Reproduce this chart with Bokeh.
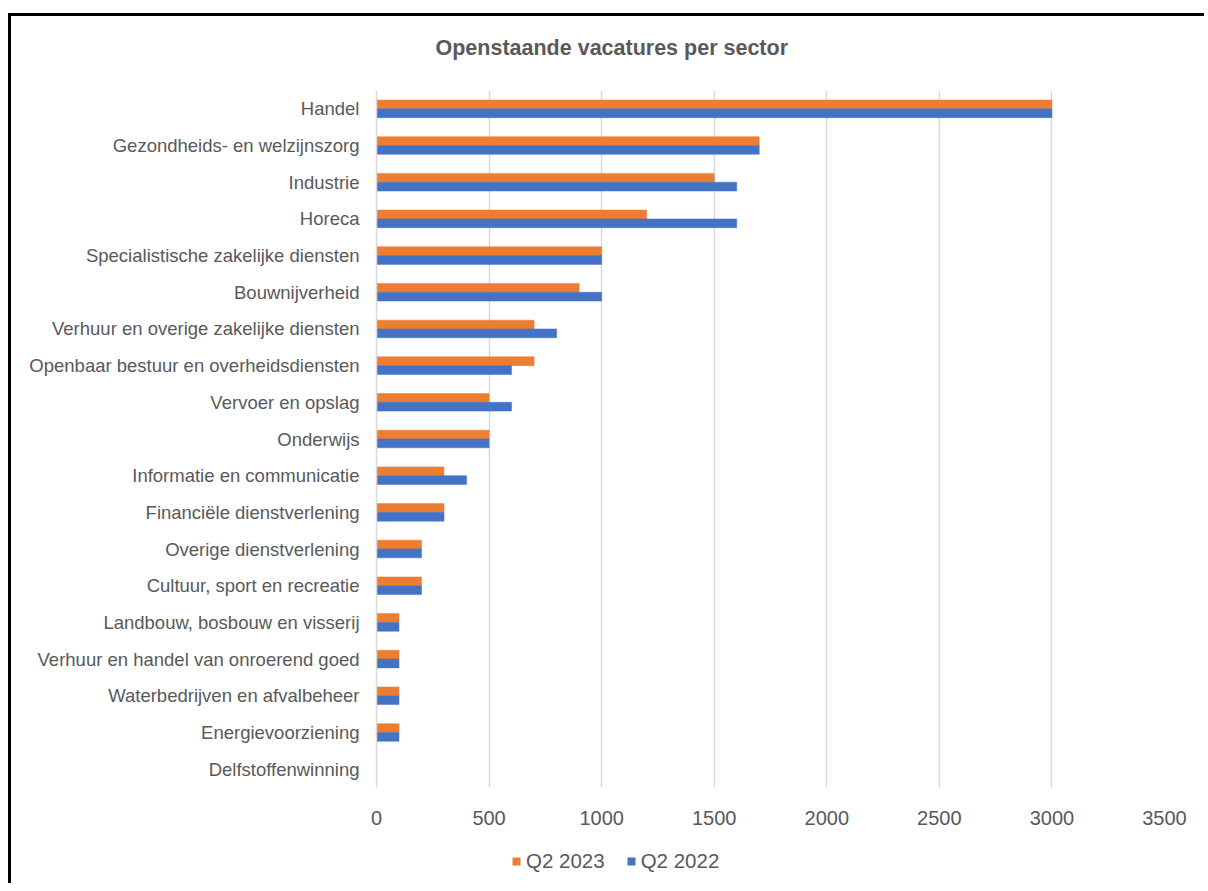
from bokeh.plotting import figure
from bokeh.layouts import column
from bokeh.models import FactorRange, ColumnDataSource, Legend, LegendItem, FixedTicker, Title
from bokeh.transform import dodge
from bokeh.embed import file_html
from bokeh.resources import INLINE

sectors = [
    "Handel",
    "Gezondheids- en welzijnszorg",
    "Industrie",
    "Horeca",
    "Specialistische zakelijke diensten",
    "Bouwnijverheid",
    "Verhuur en overige zakelijke diensten",
    "Openbaar bestuur en overheidsdiensten",
    "Vervoer en opslag",
    "Onderwijs",
    "Informatie en communicatie",
    "Financiële dienstverlening",
    "Overige dienstverlening",
    "Cultuur, sport en recreatie",
    "Landbouw, bosbouw en visserij",
    "Verhuur en handel van onroerend goed",
    "Waterbedrijven en afvalbeheer",
    "Energievoorziening",
    "Delfstoffenwinning",
]
q2_2023 = [3000, 1700, 1500, 1200, 1000, 900, 700, 700, 500, 500, 300, 300, 200, 200, 100, 100, 100, 100, 0]
q2_2022 = [3000, 1700, 1600, 1600, 1000, 1000, 800, 600, 600, 500, 400, 300, 200, 200, 100, 100, 100, 100, 0]
x_ticks = [0, 500, 1000, 1500, 2000, 2500, 3000, 3500]
series_names = ["Q2 2023", "Q2 2022"]

ORANGE = "#ED7D31"
BLUE = "#4472C4"
TEXT = "#595959"
GRID = "#D9D9D9"
FONT = "Liberation Sans"

src = ColumnDataSource(dict(sector=sectors, a=q2_2023, b=q2_2022))

p = figure(
    width=1196, height=820,
    y_range=FactorRange(factors=list(reversed(sectors)), range_padding=0),
    x_range=(0, 3500),
    output_backend="svg", toolbar_location=None,
    min_border_left=365, min_border_right=43,
    min_border_top=74, min_border_bottom=49,
)
p.outline_line_color = None
p.background_fill_color = "white"
p.border_fill_color = "white"

r1 = p.hbar(y=dodge("sector", 0.12, range=p.y_range), right="a", height=0.24, left=0,
            source=src, fill_color=ORANGE, line_color=ORANGE, line_width=0.5)
r2 = p.hbar(y=dodge("sector", -0.12, range=p.y_range), right="b", height=0.24, left=0,
            source=src, fill_color=BLUE, line_color=BLUE, line_width=0.5)

# small spacer between the plot area and the title
p.add_layout(Title(text=" ", text_font_size="1px", standoff=10), "above")

# title
p.title.text = "Openstaande vacatures per sector"
p.title.text_font = FONT
p.title.text_font_size = "21.5px"
p.title.text_font_style = "bold"
p.title.text_color = TEXT
p.title.align = "left"
p.title.offset = 59
p.title.standoff = 35

# axes
p.xaxis.ticker = FixedTicker(ticks=x_ticks)
p.xaxis.axis_line_color = None
p.xaxis.major_tick_line_color = None
p.xaxis.minor_tick_line_color = None
p.xaxis.major_tick_out = 0
p.xaxis.major_tick_in = 0
p.xaxis.major_label_text_font = FONT
p.xaxis.major_label_text_font_size = "20px"
p.xaxis.major_label_text_color = TEXT
p.xaxis.major_label_standoff = 23

p.yaxis.axis_line_color = GRID
p.yaxis.axis_line_width = 1.5
p.yaxis.major_tick_line_color = None
p.yaxis.minor_tick_line_color = None
p.yaxis.major_tick_out = 0
p.yaxis.major_tick_in = 0
p.yaxis.major_label_text_font = FONT
p.yaxis.major_label_text_font_size = "18.5px"
p.yaxis.major_label_text_color = TEXT
p.yaxis.major_label_standoff = 17

p.xgrid.grid_line_color = GRID
p.xgrid.grid_line_width = 1.5
p.ygrid.grid_line_color = None

# legend strip below the chart (same series colours; proxy bars have zero length)
leg = figure(
    width=1196, height=50, x_range=(0, 1), y_range=(0, 1),
    output_backend="svg", toolbar_location=None,
    min_border=0, min_border_left=0, min_border_right=0,
    min_border_top=0, min_border_bottom=0,
)
leg.axis.visible = False
leg.grid.visible = False
leg.outline_line_color = None
leg.background_fill_color = "white"
leg.border_fill_color = "white"
proxy = ColumnDataSource(dict(y=[0.5], right=[0]))
l1 = leg.hbar(y="y", right="right", left=0, height=0.5, source=proxy,
              fill_color=ORANGE, line_color=None)
l2 = leg.hbar(y="y", right="right", left=0, height=0.5, source=proxy,
              fill_color=BLUE, line_color=None)

legend = Legend(
    items=[LegendItem(label=series_names[0], renderers=[l1]),
           LegendItem(label=series_names[1], renderers=[l2])],
    orientation="horizontal",
    location=(135, 13),
    glyph_width=10, glyph_height=10,
    label_standoff=5, spacing=21,
    padding=0, margin=0,
    label_text_font=FONT, label_text_font_size="20.5px", label_text_color=TEXT,
    border_line_color=None, background_fill_alpha=0,
)
leg.add_layout(legend, "center")

layout = column(p, leg, spacing=0,
                styles={"margin-left": "11px", "margin-top": "16px",
                        "box-shadow": "-3px -3px 0px 0px #000000"})

open("out.html", "w").write(file_html(layout, INLINE))
